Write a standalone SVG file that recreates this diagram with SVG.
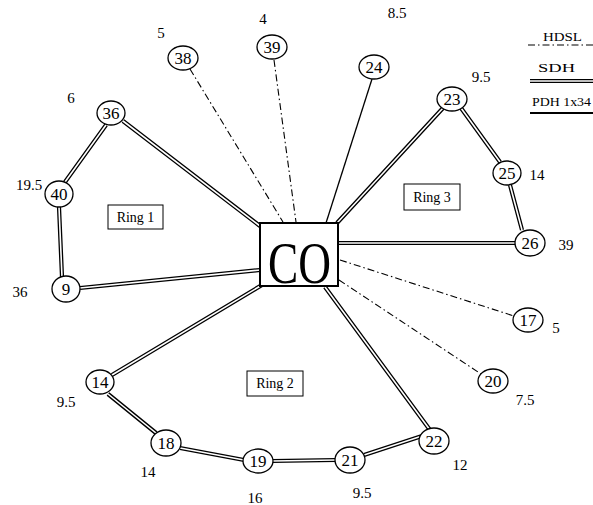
<svg xmlns="http://www.w3.org/2000/svg" width="593" height="505" viewBox="0 0 593 505">
<style>
text{font-family:"Liberation Serif","Times New Roman",serif;fill:#000}
.n text{font-size:17px;text-anchor:middle}
.n ellipse{fill:#fff;stroke:#000;stroke-width:1.3}
.lbl{font-size:15px;text-anchor:middle}
.ring rect{fill:#fff;stroke:#000;stroke-width:1}
.ring text{font-size:14px;text-anchor:middle}
.sdh{stroke:#000;stroke-width:4.2;fill:none}
.sdhi{stroke:#fff;stroke-width:1.6;fill:none}
.hdsl{stroke:#000;stroke-width:1.1;fill:none;stroke-dasharray:7,3,1.5,3}
.pdh{stroke:#000;stroke-width:1.3;fill:none}
</style>
<rect width="593" height="505" fill="#fff"/>
<g id="connectors">
<g id="sdh-lines">
<path class="sdh" d="M123,121 L260,226 M106,125 L65,182 M59,207 L62,277 M80,288 L260,270 M337,223 L443,108 M461,108 L500,162 M510,185 L522,230 M338,243 L516,243 M262,285 L112,375 M108,394 L156,433 M180,448 L244,460 M272,461 L336,460 M364,455 L422,436 M325,287 L430,430"/>
<path class="sdhi" d="M123,121 L260,226 M106,125 L65,182 M59,207 L62,277 M80,288 L260,270 M337,223 L443,108 M461,108 L500,162 M510,185 L522,230 M338,243 L516,243 M262,285 L112,375 M108,394 L156,433 M180,448 L244,460 M272,461 L336,460 M364,455 L422,436 M325,287 L430,430"/>
</g>
<path id="co-24" class="pdh" d="M326,223 L372,79"/>
<g id="hdsl-lines">
<path class="hdsl" d="M190,69 L283,222"/>
<path class="hdsl" d="M274,60 L296,222"/>
<path class="hdsl" d="M340,260 L514,316"/>
<path class="hdsl" d="M339,280 L481,374"/>
</g>
</g>
<g id="CO">
<rect x="260" y="223" width="78" height="63" fill="#fff" stroke="#000" stroke-width="2"/>
<text x="268" y="283" font-size="60" textLength="63" lengthAdjust="spacingAndGlyphs">CO</text>
</g>
<g id="node-36" class="n"><ellipse cx="111" cy="113" rx="14" ry="12"/><text x="111" y="119">36</text></g>
<g id="node-40" class="n"><ellipse cx="59" cy="194" rx="14" ry="13"/><text x="59" y="200">40</text></g>
<g id="node-9" class="n"><ellipse cx="66" cy="289" rx="14" ry="13"/><text x="66" y="295">9</text></g>
<g id="node-38" class="n"><ellipse cx="183" cy="58" rx="15" ry="12"/><text x="183" y="64">38</text></g>
<g id="node-39" class="n"><ellipse cx="272" cy="47" rx="15" ry="12"/><text x="272" y="53">39</text></g>
<g id="node-24" class="n"><ellipse cx="374" cy="67" rx="15" ry="12"/><text x="374" y="73">24</text></g>
<g id="node-23" class="n"><ellipse cx="452" cy="99" rx="15" ry="12"/><text x="452" y="105">23</text></g>
<g id="node-25" class="n"><ellipse cx="507" cy="173" rx="14" ry="12"/><text x="507" y="179">25</text></g>
<g id="node-26" class="n"><ellipse cx="530" cy="243" rx="15" ry="13"/><text x="530" y="249">26</text></g>
<g id="node-17" class="n"><ellipse cx="528" cy="320" rx="15" ry="12"/><text x="528" y="326">17</text></g>
<g id="node-20" class="n"><ellipse cx="493" cy="381" rx="15" ry="12"/><text x="493" y="387">20</text></g>
<g id="node-14" class="n"><ellipse cx="100" cy="382" rx="14" ry="12"/><text x="100" y="388">14</text></g>
<g id="node-18" class="n"><ellipse cx="166" cy="443" rx="15" ry="13"/><text x="166" y="449">18</text></g>
<g id="node-19" class="n"><ellipse cx="258" cy="461" rx="15" ry="12"/><text x="258" y="467">19</text></g>
<g id="node-21" class="n"><ellipse cx="350" cy="460" rx="15" ry="13"/><text x="350" y="466">21</text></g>
<g id="node-22" class="n"><ellipse cx="434" cy="441" rx="15" ry="13"/><text x="434" y="447">22</text></g>
<g id="labels">
<text class="lbl" x="161" y="38">5</text>
<text class="lbl" x="263" y="24">4</text>
<text class="lbl" x="397" y="18">8.5</text>
<text class="lbl" x="481" y="82">9.5</text>
<text class="lbl" x="71" y="103">6</text>
<text class="lbl" x="29" y="190">19.5</text>
<text class="lbl" x="20" y="297">36</text>
<text class="lbl" x="537" y="180">14</text>
<text class="lbl" x="566" y="250">39</text>
<text class="lbl" x="556" y="333">5</text>
<text class="lbl" x="525" y="405">7.5</text>
<text class="lbl" x="460" y="470">12</text>
<text class="lbl" x="362" y="498">9.5</text>
<text class="lbl" x="255" y="503">16</text>
<text class="lbl" x="148" y="477">14</text>
<text class="lbl" x="66" y="407">9.5</text>
</g>
<g id="ring-1" class="ring"><rect x="108" y="205" width="55" height="24"/><text x="135.5" y="222">Ring 1</text></g>
<g id="ring-3" class="ring"><rect x="404" y="184" width="56" height="26"/><text x="432" y="202">Ring 3</text></g>
<g id="ring-2" class="ring"><rect x="247" y="371" width="56" height="25"/><text x="275" y="388">Ring 2</text></g>
<g id="legend">
<text x="543" y="41" font-size="13" textLength="39" lengthAdjust="spacingAndGlyphs">HDSL</text>
<path class="hdsl" d="M528,45 L593,45"/>
<text x="538" y="72" font-size="13" textLength="37" lengthAdjust="spacingAndGlyphs">SDH</text>
<path class="sdh" d="M530,81 L593,81"/>
<path class="sdhi" d="M530,81 L593,81"/>
<text x="532" y="106" font-size="13" textLength="59" lengthAdjust="spacingAndGlyphs">PDH 1x34</text>
<path d="M530,113 L593,113" stroke="#000" stroke-width="2"/>
</g>
</svg>
